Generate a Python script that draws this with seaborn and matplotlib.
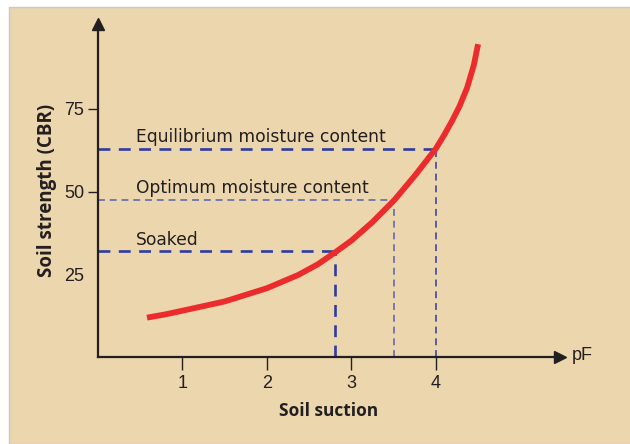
import matplotlib
matplotlib.use("Agg")
import matplotlib.pyplot as plt
from matplotlib.patches import Rectangle
import numpy as np
import pandas as pd
import seaborn as sns

# Soil strength (CBR) against soil suction (pF)
suction = [0.58, 0.8, 1.0, 1.5, 2.0, 2.37, 2.6, 2.8, 3.0, 3.25, 3.51, 3.75,
           4.0, 4.1, 4.19, 4.28, 4.37, 4.45, 4.5]
strength = [11.9, 12.9, 14.0, 16.8, 20.8, 24.8, 28.0, 31.5, 35.2, 40.8, 47.5, 54.8,
            63.0, 67.2, 71.3, 75.8, 81.4, 88.3, 94.6]

# Reference moisture states: level of strength and matching suction
state_names = ["Equilibrium moisture content", "Optimum moisture content", "Soaked"]
state_strength = [63.0, 47.5, 32.0]
state_suction = [4.0, 3.51, 2.81]
state_width = [1.9, 1.1, 1.9]       # horizontal dash weight
state_vwidth = [1.1, 1.1, 1.9]      # vertical dash weight
state_color = ["#2f3c9e", "#5560ad", "#2f3c9e"]

x_ticks = [1, 2, 3, 4]
y_ticks = [25, 50, 75]

sns.set_style("white")
plt.rcParams["font.family"] = ["Liberation Sans", "DejaVu Sans"]

BEIGE = "#ecd6ad"
INK = "#231f20"

fig = plt.figure(figsize=(6.3, 4.44), dpi=100)
fig.patch.set_facecolor("white")
fig.patches.append(Rectangle((9 / 630, 0), 1, 1 - 7 / 444, transform=fig.transFigure,
                             facecolor=BEIGE, edgecolor="#c8c8c8", linewidth=1.0, zorder=-5))

ax = fig.add_axes([98 / 630, (444 - 357) / 444, 462 / 630, 333 / 444])
ax.patch.set_visible(False)
ax.set_xlim(0, 5.47)
ax.set_ylim(0, 100.7)

for name, yv, xv, lw, vlw, c in zip(state_names, state_strength, state_suction,
                                    state_width, state_vwidth, state_color):
    ax.plot([0, xv], [yv, yv], color=c, lw=lw, dashes=(4.5, 3.2), zorder=2)
    ax.plot([xv, xv], [0, yv], color=c, lw=vlw, dashes=(4.5, 3.2), zorder=2)
    ax.text(0.45, yv + 2.0, name, fontsize=12.3, color=INK, ha="left", va="baseline",
            family=["DejaVu Sans"])

df = pd.DataFrame({"pF": suction, "CBR": strength})
sns.lineplot(data=df, x="pF", y="CBR", ax=ax, color="#ec2c2c", lw=4.2,
             solid_capstyle="butt", solid_joinstyle="round", zorder=3, legend=False)

# axes drawn as arrows
for side in ["top", "right"]:
    ax.spines[side].set_visible(False)
for side in ["left", "bottom"]:
    ax.spines[side].set_color(INK)
    ax.spines[side].set_linewidth(1.6)
ax.plot(1, 0, ">", transform=ax.transAxes, color=INK, ms=9, clip_on=False)
ax.plot(0, 1, "^", transform=ax.transAxes, color=INK, ms=9, clip_on=False)

ax.set_xticks(x_ticks)
ax.set_xticklabels([str(t) for t in x_ticks], fontsize=13, color=INK)
ax.set_yticks(y_ticks)
ax.set_yticklabels([str(t) for t in y_ticks], fontsize=13, color=INK)
ax.tick_params(axis="x", bottom=True, direction="out", length=9, width=1.0, color=INK, pad=4)
ax.tick_params(axis="y", left=True, direction="out", length=7, width=1.0, color=INK, pad=3)
ax.yaxis.get_major_ticks()[0].tick1line.set_visible(False)

ax.set_xlabel("Soil suction", fontsize=12.5, fontweight="bold", color=INK,
              family=["Open Sans", "DejaVu Sans"], labelpad=7)
ax.set_ylabel("Soil strength (CBR)", fontsize=13.5, fontweight="bold", color=INK,
              family=["Open Sans", "DejaVu Sans"], labelpad=5)
ax.text(1.025, 0.006, "pF", transform=ax.transAxes, fontsize=13, color=INK,
        ha="left", va="center")

fig.savefig("out.png", dpi=100)
